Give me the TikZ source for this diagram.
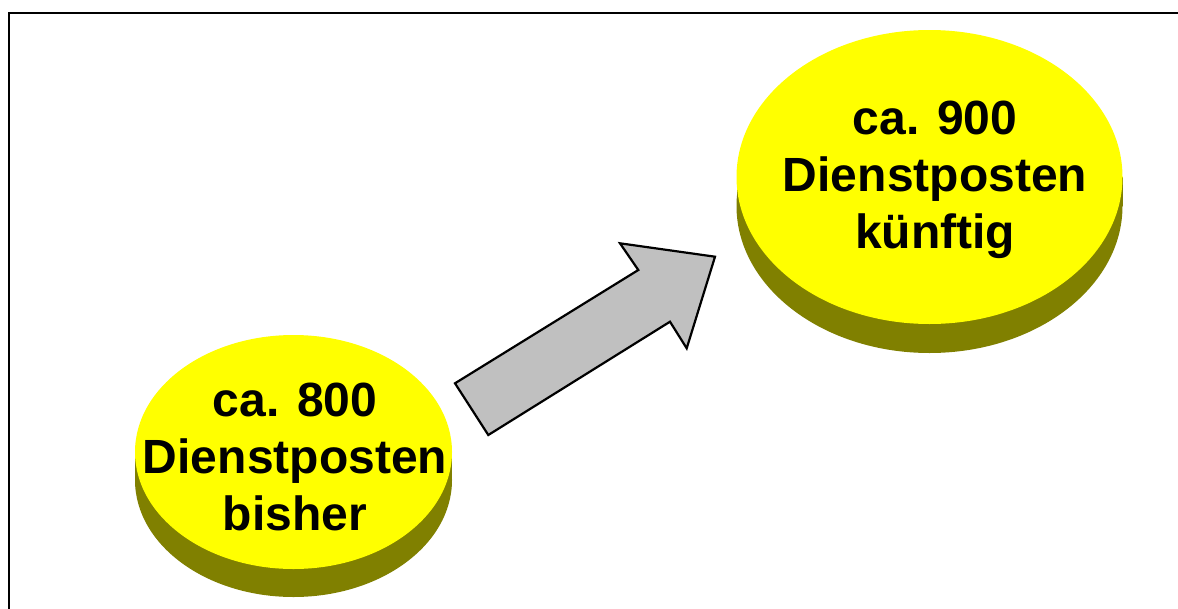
\documentclass[tikz,border=0pt]{standalone}
\usepackage{fontspec}
\setmainfont{Liberation Sans}
\definecolor{discyellow}{HTML}{FFFF00}
\definecolor{discolive}{HTML}{808000}
\definecolor{arrowgray}{HTML}{C0C0C0}
\tikzset{
  disctext/.style={align=center, font=\bfseries\fontsize{48}{57}\selectfont, text=black, inner sep=0pt},
  framestyle/.style={draw=black, line width=2pt},
  arrowstyle/.style={draw=black, line width=2.2pt, fill=arrowgray, line join=miter}
}
\newcommand{\drawdisc}[5]{% cx, cy, rx, ry, thickness
  \fill[discolive] (#1,#2+#5) ellipse[x radius=#3, y radius=#4];
  \fill[discolive] (#1-#3,#2) rectangle (#1+#3,#2+#5);
  \fill[discyellow] (#1,#2) ellipse[x radius=#3, y radius=#4];
}
\begin{document}
\begin{tikzpicture}[x=1pt,y=-1pt]
\useasboundingbox (0,0) rectangle (1178,608);
\clip (0,0) rectangle (1178,608);
\fill[white] (0,0) rectangle (1178,608);
% frame
\draw[framestyle] (9,640) -- (9,13) -- (1200,13);
% discs
\drawdisc{293.5}{452}{158.5}{117}{28}
\drawdisc{929.5}{177}{193}{147}{29}
% arrow
\coordinate (a1) at (455,383.3);
\coordinate (a2) at (488.3,435);
\coordinate (a3) at (670,321.7);
\coordinate (a4) at (686.7,348.3);
\coordinate (a5) at (715,256.7);
\coordinate (a6) at (620,243.3);
\coordinate (a7) at (638.3,270);
\draw[arrowstyle] (a1) -- (a2) -- (a3) -- (a4) -- (a5) -- (a6) -- (a7) -- cycle;
% texts
\node[disctext] (old) at (295,457) {ca. 800\\Dienstposten\\bisher};
\node[disctext] (new) at (935,180) {ca. 900\\Dienstposten\\künftig};
\end{tikzpicture}
\end{document}
